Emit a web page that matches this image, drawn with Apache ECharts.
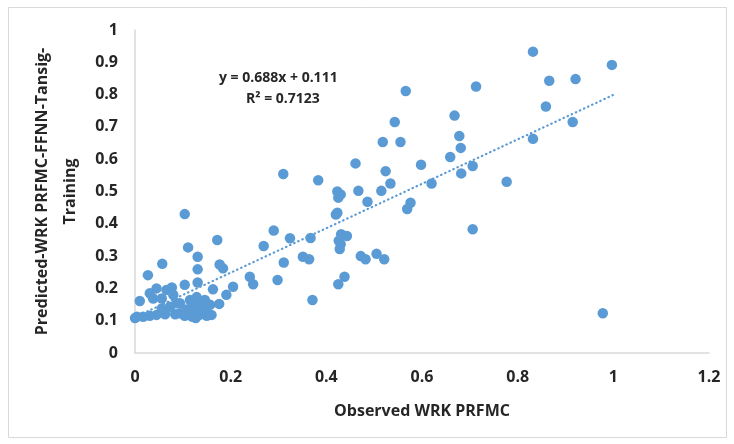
<!DOCTYPE html>
<html lang="en">
<head>
    <meta charset="UTF-8">
    <title>Observed vs Predicted WRK PRFMC</title>
    <style>
        html, body { margin: 0; padding: 0; background: #fff; }
        #chart { width: 734px; height: 444px; }
    </style>
    <script type="text/javascript" src="https://cdn.jsdelivr.net/npm/echarts@6/dist/echarts.min.js"></script>
</head>
<body>
<div id="chart"></div>

<script>
    var observed = [
        0.832, 0.997, 0.866, 0.921, 0.713, 0.566, 0.668, 0.859, 0.678, 0.915,
        0.681, 0.659, 0.832, 0.706, 0.682, 0.777, 0.543, 0.518, 0.555, 0.461,
        0.310, 0.383, 0.524, 0.598, 0.534, 0.515, 0.620, 0.423, 0.430, 0.425,
        0.467, 0.486, 0.576, 0.569, 0.423, 0.420, 0.290, 0.324, 0.367, 0.269,
        0.431, 0.443, 0.426, 0.430, 0.428, 0.351, 0.364, 0.311, 0.472, 0.482,
        0.505, 0.521, 0.298, 0.438, 0.425, 0.371, 0.706, 0.978, 0.240, 0.247,
        0.205, 0.104, 0.172, 0.111, 0.131, 0.057, 0.131, 0.177, 0.184, 0.027,
        0.131, 0.104, 0.077, 0.045, 0.031, 0.038, 0.056, 0.010, 0.163, 0.191,
        0.176, 0.066, 0.080, 0.004, 0.017, 0.031, 0.045, 0.063, 0.084, 0.094,
        0.056, 0.073, 0.087, 0.115, 0.129, 0.146, 0.157, 0.125, 0.140, 0.111,
        0.127, 0.150, 0.160, 0.094, 0.136, 0.146, 0.153, 0.104, 0.120, 0.135,
        0.108, 0.120, 0.000
    ];
    var predicted = [
        0.933, 0.892, 0.843, 0.848, 0.825, 0.811, 0.735, 0.763, 0.672, 0.715,
        0.635, 0.607, 0.663, 0.579, 0.556, 0.530, 0.715, 0.653, 0.653, 0.587,
        0.554, 0.535, 0.563, 0.583, 0.525, 0.502, 0.525, 0.500, 0.491, 0.481,
        0.502, 0.468, 0.465, 0.446, 0.434, 0.429, 0.379, 0.355, 0.356, 0.331,
        0.368, 0.362, 0.348, 0.337, 0.322, 0.298, 0.290, 0.280, 0.300, 0.290,
        0.307, 0.290, 0.226, 0.236, 0.213, 0.164, 0.383, 0.123, 0.236, 0.213,
        0.205, 0.430, 0.350, 0.327, 0.298, 0.276, 0.259, 0.274, 0.262, 0.241,
        0.218, 0.211, 0.203, 0.200, 0.185, 0.169, 0.169, 0.161, 0.197, 0.180,
        0.152, 0.195, 0.180, 0.112, 0.112, 0.115, 0.118, 0.120, 0.120, 0.123,
        0.138, 0.143, 0.154, 0.164, 0.173, 0.164, 0.149, 0.139, 0.127, 0.118,
        0.108, 0.115, 0.118, 0.154, 0.159, 0.138, 0.118, 0.115, 0.112, 0.118,
        0.135, 0.148, 0.108
    ];

    // linear trendline end points (y = 0.688x + 0.111)
    var trendX = [0.0, 1.0];
    var trendY = [0.111, 0.799];

    var equationText = 'y = 0.688x + 0.111';
    var r2Text = 'R² = 0.7123';
    var xTitle = 'Observed WRK PRFMC';
    var yTitle = 'Predicted-WRK PRFMC-FFNN-Tansig-\nTraining';

    var points = observed.map(function (x, i) { return [x, predicted[i]]; });
    var trend = trendX.map(function (x, i) { return [x, trendY[i]]; });

    var fontFam = '"Open Sans", "Liberation Sans", sans-serif';
    var txtColor = '#262626';

    var chart = echarts.init(document.getElementById('chart'));
    var option = {
        animation: false,
        backgroundColor: '#fff',
        grid: { left: 135, right: 25, top: 30, bottom: 91 },
        xAxis: {
            type: 'value',
            min: 0, max: 1.2, interval: 0.2,
            name: xTitle,
            nameLocation: 'middle',
            nameGap: 50,
            nameTextStyle: { fontFamily: fontFam, fontWeight: 'bold', fontSize: 16, color: txtColor },
            axisLine: { show: true, lineStyle: { color: '#d9d9d9', width: 1.5 } },
            axisTick: { show: false },
            splitLine: { show: false },
            axisLabel: {
                margin: 16,
                fontFamily: fontFam, fontWeight: 'bold', fontSize: 16, color: txtColor,
                formatter: function (v) { return String(+v.toFixed(1)); }
            }
        },
        yAxis: {
            type: 'value',
            min: 0, max: 1, interval: 0.1,
            name: yTitle,
            nameLocation: 'middle',
            nameRotate: 90,
            nameGap: 49,
            nameTextStyle: { fontFamily: fontFam, fontWeight: 'bold', fontSize: 16, lineHeight: 28, color: txtColor },
            axisLine: { show: true, lineStyle: { color: '#d9d9d9', width: 1.5 } },
            axisTick: { show: false },
            splitLine: { show: false },
            axisLabel: {
                margin: 17,
                fontFamily: fontFam, fontWeight: 'bold', fontSize: 16, color: txtColor,
                formatter: function (v) { return String(+v.toFixed(1)); }
            }
        },
        series: [
            {
                type: 'scatter',
                data: points,
                symbolSize: 10.5,
                itemStyle: { color: '#5b9bd5', opacity: 1 }
            },
            {
                type: 'line',
                data: trend,
                symbol: 'none',
                lineStyle: { color: '#5b9bd5', width: 2.2, type: [0.5, 4], cap: 'round' },
                z: 3
            }
        ],
        graphic: [
            {
                type: 'rect',
                shape: { x: 8.5, y: 7.5, width: 718, height: 430 },
                style: { fill: 'none', stroke: '#d9d9d9', lineWidth: 1 },
                silent: true
            },
            {
                type: 'text',
                left: 219, top: 71,
                style: { text: equationText, fontFamily: fontFam, fontWeight: 'bold', fontSize: 14, fill: txtColor }
            },
            {
                type: 'text',
                left: 246, top: 92,
                style: { text: r2Text, fontFamily: fontFam, fontWeight: 'bold', fontSize: 14, fill: txtColor }
            }
        ]
    };
    chart.setOption(option);
</script>
</body>
</html>
